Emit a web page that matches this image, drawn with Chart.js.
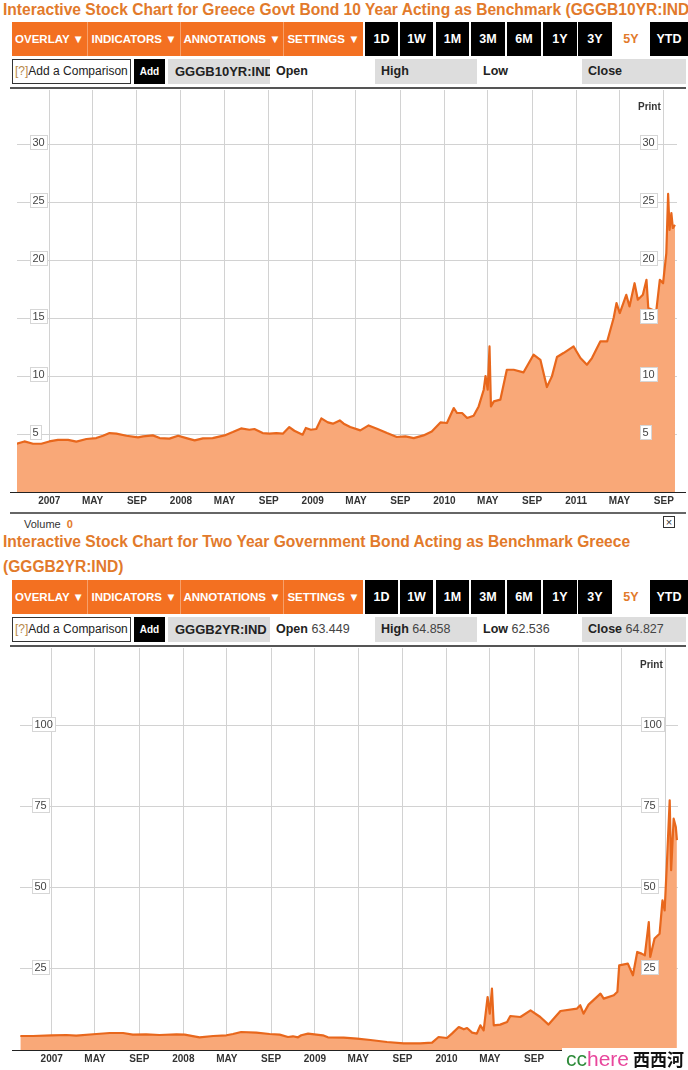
<!DOCTYPE html>
<html>
<head>
<meta charset="utf-8">
<script src="https://cdn.jsdelivr.net/npm/chart.js@4.4.1/dist/chart.umd.min.js"></script>
<style>
  body { margin:0; background:#fff; width:688px; height:1070px; overflow:hidden; position:relative;
         font-family:"Liberation Sans", Arial, sans-serif; }
  .title { position:absolute; left:3px; font-weight:bold; font-size:15.6px; color:#e27a2b; white-space:nowrap; }
  .block { position:absolute; left:0; width:688px; height:68px; }
  .btn { position:absolute; top:0; height:34px; line-height:34px; text-align:center; font-weight:bold; color:#fff; white-space:nowrap; }
  .or { background:#f37021; font-size:11.5px; }
  .bk { background:#000; font-size:12.5px; }
  .sel { background:#fff; color:#e27a2b; }
  .cell { position:absolute; top:37px; height:25px; line-height:25px; font-size:12.5px; color:#222;
          white-space:nowrap; overflow:hidden; box-sizing:border-box; }
  .gray { background:#ddd; }
  .rule { position:absolute; top:65px; left:10px; width:676px; height:2px; background:#555; }
  .print { position:absolute; font-weight:bold; font-size:10px; color:#333; }
  canvas { position:absolute; left:0; }
</style>
</head>
<body>

<div class="title" style="top:0;line-height:20px;width:688px;overflow:hidden">Interactive Stock Chart for Greece Govt Bond 10 Year Acting as Benchmark (GGGB10YR:IND)</div>
<div class="block" id="bar1" style="top:22px"></div>
<canvas id="tenYear" width="688" height="424" style="top:88px"></canvas>
<div class="print" style="left:638px;top:101px">Print</div>
<div style="position:absolute;left:10px;top:512px;width:676px;height:2px;background:#666"></div>

<div style="position:absolute;left:24px;top:518px;font-size:11px;color:#333">Volume&nbsp; <b style="color:#e27a2b">0</b></div>
<div style="position:absolute;left:663px;top:516px;width:10px;height:10px;border:1px solid #333;font-size:11px;line-height:10px;text-align:center;color:#333">&#215;</div>

<div class="title" style="top:529px;line-height:25px">Interactive Stock Chart for Two Year Government Bond Acting as Benchmark Greece<br>(GGGB2YR:IND)</div>
<div class="block" id="bar2" style="top:580px"></div>
<canvas id="twoYear" width="688" height="424" style="top:646px"></canvas>
<div class="print" style="left:640px;top:659px">Print</div>

<div style="position:absolute;left:562px;top:1048px;width:126px;height:22px;background:#fff;white-space:nowrap;line-height:22px">
  <span style="font-size:21px;color:#2e8b3a;margin-left:4px">cc</span><span style="font-size:21px;color:#e8469c">here</span><span style="font-family:'Noto Sans CJK SC';font-size:17px;font-weight:bold;color:#111;margin-left:4px">西西河</span>
</div>

<script>
// 10 year yield, %
const tenYearDates = [
  '2006-10-03','2006-10-24','2006-11-17','2006-12-10',
  '2007-01-01','2007-01-25','2007-02-22','2007-03-17','2007-04-14','2007-05-11','2007-05-30','2007-06-17',
  '2007-07-06','2007-08-03','2007-09-04','2007-09-18','2007-10-15','2007-11-03','2007-11-30','2007-12-24',
  '2008-01-16','2008-02-08','2008-03-02','2008-03-29','2008-05-01','2008-05-24','2008-06-16','2008-07-09',
  '2008-07-23','2008-08-15','2008-09-03','2008-09-22','2008-10-10','2008-10-28','2008-11-11','2008-12-04',
  '2008-12-13','2008-12-27',
  '2009-01-11','2009-01-25','2009-02-12','2009-02-26','2009-03-17','2009-03-28','2009-04-15','2009-05-13',
  '2009-06-05','2009-06-28','2009-07-26','2009-08-22','2009-09-15','2009-10-08','2009-11-04','2009-11-27',
  '2009-12-21',
  '2010-01-08','2010-01-27','2010-02-05','2010-02-19','2010-03-05','2010-03-23','2010-04-06','2010-04-20',
  '2010-04-25','2010-05-01','2010-05-06','2010-05-10','2010-05-18','2010-06-05','2010-06-23','2010-07-12',
  '2010-08-08','2010-09-05','2010-09-24','2010-10-12','2010-10-26','2010-11-09','2010-11-27','2010-12-25',
  '2011-01-13','2011-01-31','2011-02-14','2011-03-09','2011-03-28','2011-04-15','2011-04-23','2011-05-02',
  '2011-05-20','2011-05-29','2011-06-12','2011-06-21','2011-07-05','2011-07-15','2011-07-20','2011-08-11',
  '2011-08-21','2011-08-30','2011-09-08','2011-09-13','2011-09-17','2011-09-22','2011-09-26','2011-10-02'
];
const tenYearYield = [
  4.16,4.36,4.16,4.16,
  4.36,4.5,4.5,4.34,4.57,4.65,4.85,5.08,
  5.03,4.85,4.71,4.8,4.88,4.65,4.6,4.85,
  4.65,4.45,4.62,4.65,4.88,5.17,5.48,5.37,
  5.43,5.08,5.03,5.08,5.03,5.6,5.28,4.94,
  5.52,5.37,
  5.43,6.35,6.0,5.89,6.17,5.89,5.6,5.31,
  5.74,5.46,5.08,4.74,4.8,4.65,4.88,5.22,
  6.0,
  5.95,7.24,6.81,6.81,6.38,6.58,7.38,8.82,
  10.0,8.82,12.55,7.38,7.81,7.96,10.54,10.54,
  10.31,11.84,11.4,9.05,9.97,11.64,11.98,12.55,
  11.55,10.97,11.55,12.98,12.98,15.0,16.29,15.43,
  17.0,16.0,18.0,16.58,17.0,18.3,15.86,15.57,
  18.3,18.0,20.6,25.7,22.6,24.05,22.76,23.04
];

// 2 year yield, %
const twoYearDates = [
  '2006-10-06','2006-11-10',
  '2007-01-01','2007-02-11','2007-03-10','2007-05-05','2007-06-11','2007-07-18','2007-08-14','2007-09-20',
  '2007-10-27','2007-12-13',
  '2008-01-05','2008-02-15','2008-03-24','2008-04-30','2008-05-18','2008-06-10','2008-07-22','2008-08-28',
  '2008-09-25','2008-10-18','2008-11-01','2008-11-15','2008-11-24','2008-12-13',
  '2009-01-05','2009-01-23','2009-02-06','2009-03-22','2009-04-28','2009-06-04','2009-07-20','2009-09-04',
  '2009-10-20','2009-11-22','2009-12-10',
  '2010-01-02','2010-01-16','2010-02-04','2010-02-18','2010-02-27','2010-03-13','2010-03-26','2010-04-05',
  '2010-04-14','2010-04-25','2010-05-01','2010-05-07','2010-05-12','2010-05-30','2010-06-18','2010-06-27',
  '2010-07-25','2010-08-22','2010-09-18','2010-10-11','2010-11-13','2010-12-29',
  '2011-01-07','2011-01-16','2011-01-30','2011-03-04','2011-03-13','2011-04-10','2011-04-20','2011-04-25',
  '2011-05-19','2011-06-02','2011-06-14','2011-06-26','2011-07-05','2011-07-16','2011-07-20','2011-08-01',
  '2011-08-15','2011-08-23','2011-08-29','2011-09-04','2011-09-12','2011-09-16','2011-09-23','2011-09-29',
  '2011-10-02'
];
const twoYearYield = [
  4.32,4.32,
  4.54,4.63,4.44,4.94,5.25,5.25,4.75,4.85,
  4.63,4.85,
  4.75,3.92,4.32,4.54,4.94,5.56,5.37,4.94,
  4.75,4.01,4.23,3.92,4.54,5.06,
  4.75,4.54,3.92,3.83,3.52,3.09,2.47,2.07,
  2.07,2.28,4.01,
  3.7,5.06,7.1,6.39,6.79,5.37,5.06,7.62,
  6.08,16.36,11.23,18.95,7.62,7.84,8.64,10.49,
  10.19,12.25,10.19,7.84,12.04,12.78,
  13.8,11.23,14.01,17.4,15.86,16.88,18.0,26.14,
  26.67,23.06,30.25,29.75,29.2,39.5,28.7,34.4,
  35.9,46.2,43.1,57.0,77.06,55.5,71.4,68.8,
  64.8
];

const tickDates = ['2007-01-01','2007-05-01','2007-09-01','2008-01-01','2008-05-01','2008-09-01',
  '2009-01-01','2009-05-01','2009-09-01','2010-01-01','2010-05-01','2010-09-01',
  '2011-01-01','2011-05-01','2011-09-01'];
const tickLabels = ['2007','MAY','SEP','2008','MAY','SEP','2009','MAY','SEP','2010','MAY','SEP','2011','MAY','SEP'];
const tenYearTicks = [5, 10, 15, 20, 25, 30];
const twoYearTicks = [25, 50, 75, 100];

const FONT = '"Liberation Sans", Arial, sans-serif';
Chart.defaults.font.family = FONT;

function toYear(s) {
  const [y, m, d] = s.split('-').map(Number);
  const t0 = Date.UTC(y, 0, 1), t1 = Date.UTC(y + 1, 0, 1);
  return y + (Date.UTC(y, m - 1, d) - t0) / (t1 - t0);
}

/* toolbars */
const orangeBtns = [['OVERLAY', 12, 75], ['INDICATORS', 88, 92], ['ANNOTATIONS', 181, 102], ['SETTINGS', 284, 79]];
const rangeBtns = [['1D', 365, 33], ['1W', 400, 33], ['1M', 436, 33], ['3M', 471, 34], ['6M', 507, 34],
                   ['1Y', 543, 34], ['3Y', 578, 34], ['5Y', 614, 34], ['YTD', 650, 38]];

function buildBar(id, ticker, q) {
  const el = document.getElementById(id);
  let h = '<div style="position:absolute;left:12px;top:0;width:351px;height:34px;background:#f7a06a"></div>';
  orangeBtns.forEach(b => {
    h += `<div class="btn or" style="left:${b[1]}px;width:${b[2]}px">${b[0]} &#9660;</div>`;
  });
  rangeBtns.forEach(b => {
    h += `<div class="btn bk${b[0] === '5Y' ? ' sel' : ''}" style="left:${b[1]}px;width:${b[2]}px">${b[0]}</div>`;
  });
  h += `<div class="cell" style="left:12px;width:119px;border:1px solid #333;line-height:23px;padding-left:2px;font-size:12px"><span style="color:#b8894a">[?]</span>Add a Comparison</div>`;
  h += `<div class="cell" style="left:134px;width:31px;background:#000;color:#fff;font-weight:bold;font-size:10px;text-align:center">Add</div>`;
  h += `<div class="cell gray" style="left:168px;width:102px;padding-left:7px;font-weight:bold;font-size:13px">${ticker}</div>`;
  const v = k => q[k] ? ` <span style="color:#444">${q[k]}</span>` : '';
  h += `<div class="cell" style="left:272px;width:100px;padding-left:4px"><b>Open</b>${v('open')}</div>`;
  h += `<div class="cell gray" style="left:375px;width:102px;padding-left:6px"><b>High</b>${v('high')}</div>`;
  h += `<div class="cell" style="left:479px;width:100px;padding-left:4px"><b>Low</b>${v('low')}</div>`;
  h += `<div class="cell gray" style="left:582px;width:104px;padding-left:6px"><b>Close</b>${v('close')}</div>`;
  h += '<div class="rule"></div>';
  el.innerHTML = h;
}
buildBar('bar1', 'GGGB10YR:IND', {});
buildBar('bar2', 'GGGB2YR:IND', { open: '63.449', high: '64.858', low: '62.536', close: '64.827' });

/* boxed y labels on both sides + dark base line */
const labelBoxes = {
  id: 'labelBoxes',
  afterDatasetsDraw(chart, args, o) {
    const ctx = chart.ctx, y = chart.scales.y, a = chart.chartArea;
    ctx.save();
    ctx.strokeStyle = '#222'; ctx.lineWidth = 1;
    const by = Math.round(a.bottom) + 0.5;
    ctx.beginPath(); ctx.moveTo(o.axisFrom, by); ctx.lineTo(o.axisTo, by); ctx.stroke();
    ctx.font = '11px ' + FONT;
    ctx.textBaseline = 'middle';
    y.ticks.forEach(t => {
      const py = Math.round(y.getPixelForValue(t.value)) - 2;
      const txt = String(t.value);
      const w = Math.ceil(ctx.measureText(txt).width) + 5;
      o.labelX.forEach(x => {
        ctx.fillStyle = '#fff'; ctx.fillRect(x, py - 7, w, 15);
        ctx.strokeStyle = '#d6d6d6'; ctx.strokeRect(x + 0.5, py - 6.5, w - 1, 14);
        ctx.fillStyle = '#444'; ctx.fillText(txt, x + 2.5, py + 1);
      });
    });
    ctx.restore();
  }
};

function makeChart(id, dates, values, yTicks, o) {
  const pts = dates.map((d, i) => ({ x: toYear(d), y: values[i] }));
  const xTicks = tickDates.map(toYear);
  return new Chart(document.getElementById(id), {
    type: 'line',
    data: { datasets: [{
      data: pts, borderColor: '#e8671c', backgroundColor: '#f9a878', fill: 'origin',
      borderWidth: 2.2, pointRadius: 0, tension: 0, borderJoinStyle: 'round'
    }]},
    options: {
      responsive: false, animation: false,
      layout: { padding: { left: o.padLeft, right: o.padRight, top: 2, bottom: 0 } },
      plugins: { legend: { display: false }, tooltip: { enabled: false }, labelBoxes: o.labels },
      scales: {
        x: {
          type: 'linear', min: o.xMin, max: o.xMax,
          afterBuildTicks: s => { s.ticks = xTicks.map(v => ({ value: v })); },
          afterFit: s => { s.height = 20; },
          ticks: { callback: (v, i) => tickLabels[i], autoSkip: false, maxRotation: 0, padding: 3,
                   color: '#333', font: { size: 10, weight: 'bold' } },
          grid: { color: '#d2d2d2', drawTicks: false },
          border: { display: false }
        },
        y: {
          min: 0, max: o.yMax,
          afterBuildTicks: s => { s.ticks = yTicks.map(v => ({ value: v })); },
          afterFit: s => { s.width = 0; },
          ticks: { display: false },
          grid: { color: '#d2d2d2', drawTicks: false },
          border: { display: false }
        }
      }
    },
    plugins: [labelBoxes]
  });
}

makeChart('tenYear', tenYearDates, tenYearYield, tenYearTicks, {
  padLeft: 17, padRight: 11, xMin: 2006.755, xMax: 2011.766, yMax: 34.66,
  labels: { labelX: [30, 640], axisFrom: 10, axisTo: 686 }
});
makeChart('twoYear', twoYearDates, twoYearYield, twoYearTicks, {
  padLeft: 20, padRight: 10, xMin: 2006.759, xMax: 2011.759, yMax: 124.07,
  labels: { labelX: [32, 641], axisFrom: 12, axisTo: 686 }
});
</script>
</body>
</html>
